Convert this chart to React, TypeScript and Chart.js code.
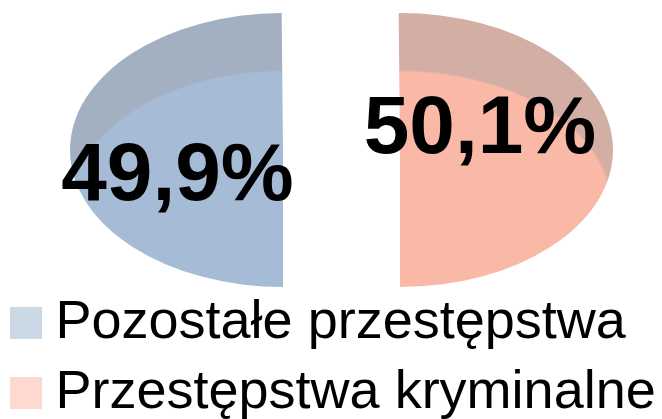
import React, { useEffect, useRef } from 'react';
import { Chart, registerables } from 'chart.js';

Chart.register(...registerables);

// ---- data ----
const categories = ['Pozostałe przestępstwa', 'Przestępstwa kryminalne'];
const shares = [49.9, 50.1];

// ---- style ----
const faceColors = ['#a6bcd6', '#f9b9a6'];
const bandColors = ['#a2b0c1', '#d3aea5'];
const legendColors = ['#cbd9e7', '#fdd9cf'];
const FONT = "'Liberation Sans', Arial, sans-serif";

// layout of the flattened (elliptical), split pie
const ELLIPSE_CX = 341.5;
const ELLIPSE_CY = 150;
const HALF_W = 213;
const HALF_H = 137;
const HALF_GAP = 58.5;
const BASE_R = 137;
const BAND_DEPTH = 57;
const LABEL_SHIFT: [number, number][] = [
  [-164, 50],
  [138.5, 3],
];

const fmt = (v: number) => v.toFixed(1).replace('.', ',') + '%';

function sliceFill(c: any) {
  const i = c.dataIndex ?? 0;
  const chart = c.chart;
  const area = chart.chartArea;
  if (!area) return faceColors[i];
  const cx = (area.left + area.right) / 2;
  const cy = (area.top + area.bottom) / 2;
  const R = BASE_R;
  const sy = HALF_H / R;
  const d = BAND_DEPTH / sy;
  const g = chart.ctx.createRadialGradient(cx, cy + d, 0, cx, cy + d, R);
  g.addColorStop(0, faceColors[i]);
  g.addColorStop(0.985, faceColors[i]);
  g.addColorStop(1, bandColors[i]);
  return g;
}

function legendSwatch(color: string) {
  const c = document.createElement('canvas');
  c.width = 32;
  c.height = 32;
  const x = c.getContext('2d')!;
  x.fillStyle = color;
  x.fillRect(0, 0, 32, 32);
  return c;
}

const ellipsePlugin = {
  id: 'ellipsePie',
  beforeDatasetsDraw(chart: any) {
    const ctx = chart.ctx;
    const arcs = chart.getDatasetMeta(0).data;
    arcs.forEach((arc: any) => {
      const R = arc.outerRadius;
      const mid = (arc.startAngle + arc.endAngle) / 2;
      const dir = Math.cos(mid) < 0 ? -1 : 1;
      ctx.save();
      ctx.translate(ELLIPSE_CX + dir * HALF_GAP, ELLIPSE_CY);
      ctx.scale(HALF_W / R, HALF_H / R);
      ctx.translate(-arc.x, -arc.y);
      arc.draw(ctx);
      ctx.restore();
    });
    return false;
  },
  afterDraw(chart: any) {
    const ctx = chart.ctx;
    ctx.save();
    ctx.font = `bold 82px ${FONT}`;
    ctx.fillStyle = '#000000';
    ctx.textAlign = 'center';
    ctx.textBaseline = 'alphabetic';
    shares.forEach((v, i) => {
      ctx.fillText(fmt(v), ELLIPSE_CX + LABEL_SHIFT[i][0], ELLIPSE_CY + LABEL_SHIFT[i][1]);
    });
    ctx.restore();
  },
};

export default function App() {
  const ref = useRef<HTMLCanvasElement | null>(null);

  useEffect(() => {
    if (!ref.current) return;
    Chart.defaults.font.family = FONT;
    const swatches = legendColors.map(legendSwatch);
    const chart = new Chart(ref.current, {
      type: 'pie',
      data: {
        labels: categories,
        datasets: [
          {
            data: shares,
            backgroundColor: sliceFill as any,
            borderWidth: 0,
            offset: 0,
            hoverOffset: 0,
            radius: BASE_R,
          } as any,
        ],
      },
      options: {
        animation: false,
        responsive: true,
        maintainAspectRatio: false,
        rotation: 180,
        events: [],
        layout: { padding: { left: 7.5, top: 0, right: 0, bottom: 0 } },
        plugins: {
          tooltip: { enabled: false },
          legend: {
            display: true,
            position: 'bottom',
            align: 'start',
            labels: {
              usePointStyle: true,
              pointStyleWidth: 5,
              padding: 16,
              color: '#000000',
              font: { family: FONT, size: 54 },
              generateLabels: () =>
                categories.map((t, i) => ({
                  text: t,
                  fillStyle: legendColors[i],
                  strokeStyle: legendColors[i],
                  lineWidth: 0,
                  pointStyle: swatches[i] as any,
                  hidden: false,
                  index: i,
                  fontColor: '#000000',
                })),
            },
          },
        },
      },
      plugins: [ellipsePlugin],
    });
    return () => chart.destroy();
  }, []);

  return (
    <div
      style={{
        position: 'fixed',
        left: 0,
        top: 0,
        width: 662,
        height: 419,
        overflow: 'hidden',
        background: '#ffffff',
      }}
    >
      <div style={{ position: 'relative', width: 662, height: 430 }}>
        <canvas ref={ref} />
      </div>
    </div>
  );
}
